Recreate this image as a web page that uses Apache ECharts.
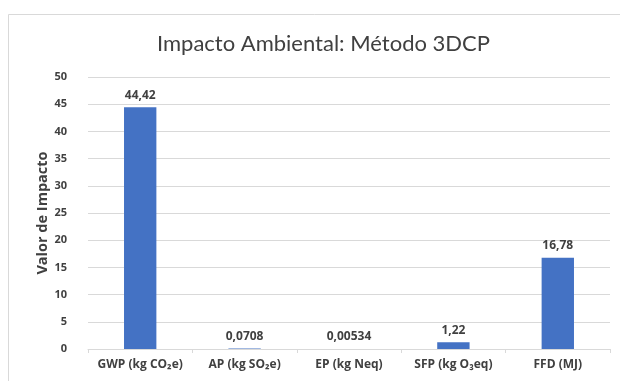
<!DOCTYPE html>
<html><head><meta charset="utf-8">
<script src="https://cdn.jsdelivr.net/npm/echarts@6/dist/echarts.min.js"></script>
<style>html,body{margin:0;padding:0;background:#fff}#c{width:620px;height:381px}</style>
</head><body><div id="c"></div>
<script>
const categories = ['GWP (kg CO\u2082e)', 'AP (kg SO\u2082e)', 'EP (kg Neq)', 'SFP (kg O\u2083eq)', 'FFD (MJ)'];
const values = [44.42, 0.0708, 0.00534, 1.22, 16.78];
const valueLabels = ['44,42', '0,0708', '0,00534', '1,22', '16,78'];
const yTicks = [0, 5, 10, 15, 20, 25, 30, 35, 40, 45, 50];

const font = '"Open Sans", sans-serif';
const chart = echarts.init(document.getElementById('c'), null, {renderer: 'canvas'});
chart.setOption({
  animation: false,
  backgroundColor: '#fff',
  graphic: [{type: 'rect', shape: {x: 8.5, y: 14.5, width: 640, height: 380}, style: {fill: 'none', stroke: '#d9d9d9', lineWidth: 1}}],
  title: {
    text: 'Impacto Ambiental: Método 3DCP', left: 152, top: 28,
    textStyle: {fontFamily: 'Lato, sans-serif', fontSize: 22, fontWeight: 'normal', color: '#404040'}
  },
  grid: {left: 88, right: 10, top: 77, bottom: 32},
  xAxis: {
    type: 'category', data: categories,
    axisLine: {lineStyle: {color: '#d9d9d9'}},
    axisTick: {show: true, length: 4, lineStyle: {color: '#d9d9d9'}},
    axisLabel: {fontFamily: font, fontSize: 12, fontWeight: 'bold', color: '#404040', margin: 10, interval: 0}
  },
  yAxis: {
    type: 'value', min: yTicks[0], max: yTicks[yTicks.length - 1], interval: 5,
    name: 'Valor de Impacto', nameLocation: 'middle', nameGap: 38, nameMoveOverlap: false,
    nameTextStyle: {fontFamily: font, fontSize: 14.5, fontWeight: 'bold', color: '#404040'},
    axisLine: {show: false}, axisTick: {show: false},
    splitLine: {lineStyle: {color: '#d9d9d9'}},
    axisLabel: {fontFamily: font, fontSize: 11, fontWeight: 'bold', color: '#404040', margin: 21}
  },
  series: [{
    type: 'bar', data: values, barWidth: '31%',
    itemStyle: {color: '#4472C4'},
    label: {
      show: true, position: 'top', distance: 6,
      fontFamily: font, fontSize: 12, fontWeight: 'bold', color: '#404040',
      formatter: p => valueLabels[p.dataIndex]
    }
  }]
});
</script></body></html>
